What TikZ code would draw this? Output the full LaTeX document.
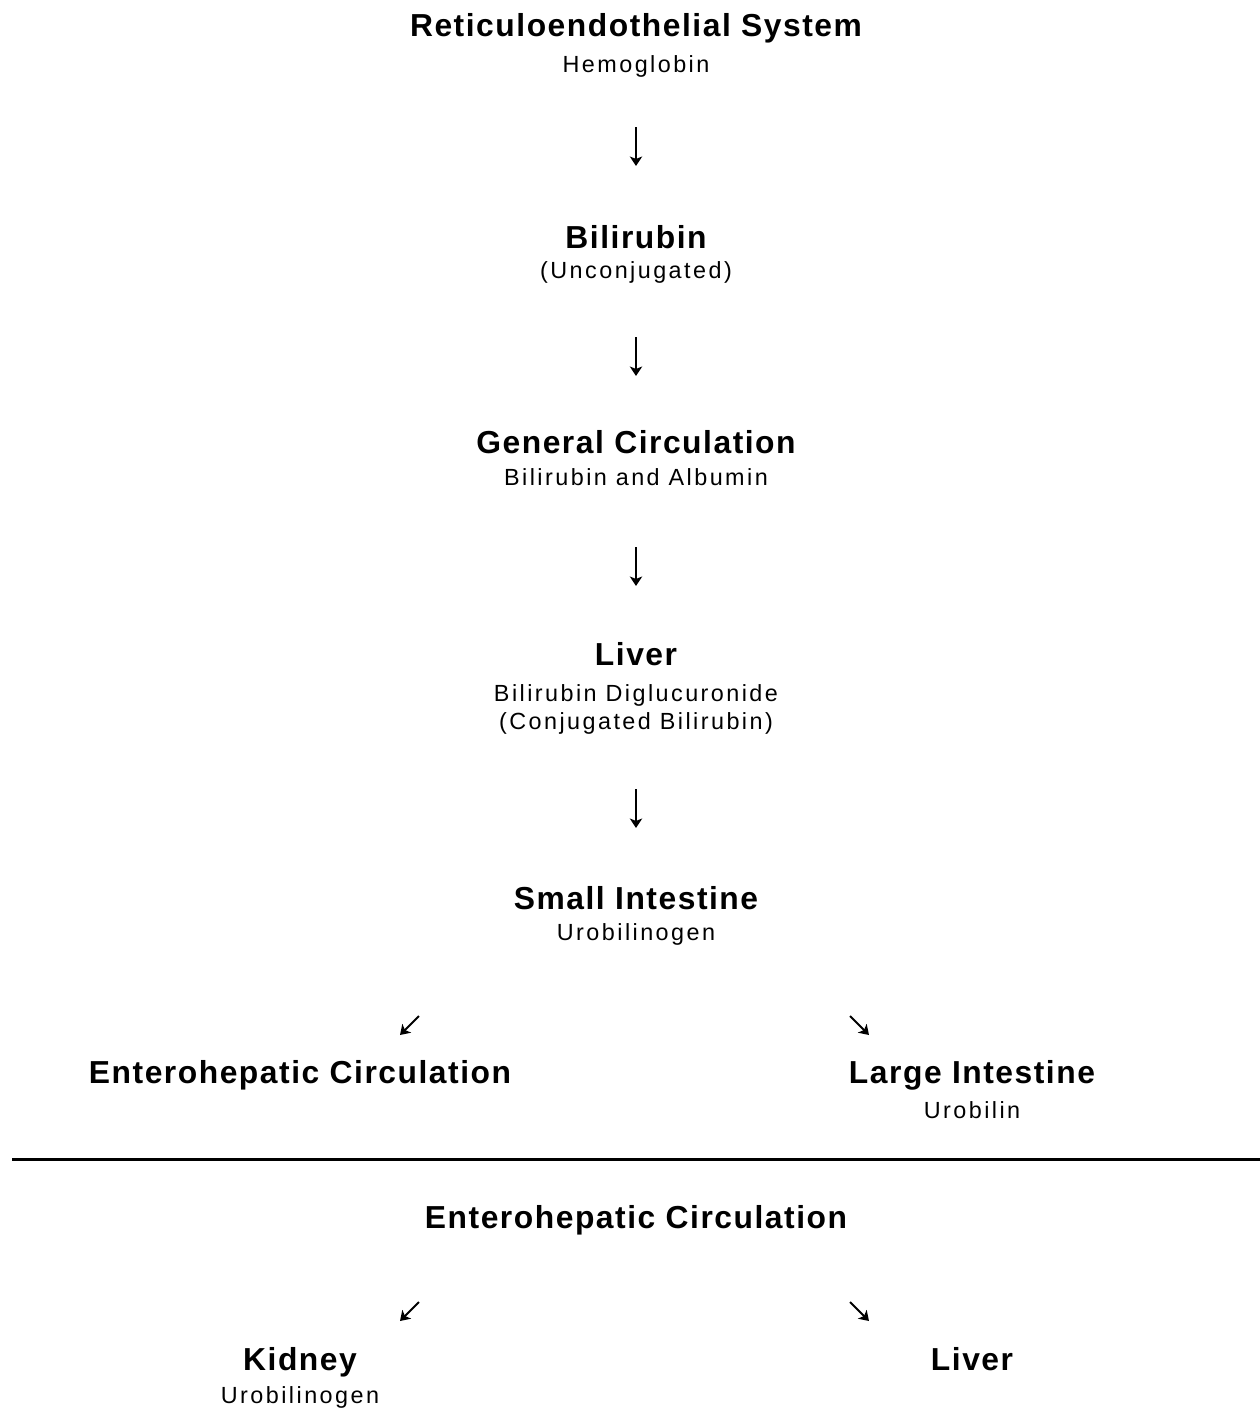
\documentclass[tikz,border=0pt]{standalone}
\usepackage{fontspec}
\setmainfont{Liberation Sans}
\newfontfamily\headfont[LetterSpace=4.8]{Liberation Sans Bold}
\newfontfamily\subfont[LetterSpace=10.5]{Liberation Sans}
\usetikzlibrary{arrows.meta}
\tikzset{
  head/.style={anchor=base, inner sep=0pt, font=\headfont\fontsize{18.1pt}{21pt}\selectfont},
  sub/.style={anchor=base, inner sep=0pt, font=\subfont\fontsize{13.3pt}{16pt}\selectfont},
  flow/.style={line width=1.1pt, -{Stealth[length=5.4pt,width=7pt,inset=1.4pt]}},
  divider/.style={line width=1.7pt}
}
\begin{document}
\begin{tikzpicture}[x=0.02cm,y=-0.02cm]
\useasboundingbox (0,0) rectangle (1260,1410);
% main chain
\node[head] (res) at (636,36) {Reticuloendothelial System};
\node[sub] (hem) at (636,72) {Hemoglobin};
\node[head] (bil) at (636,248) {Bilirubin};
\node[sub] (unc) at (636,278) {(Unconjugated)};
\node[head] (gen) at (636,453) {General Circulation};
\node[sub] (alb) at (636,485) {Bilirubin and Albumin};
\node[head] (liv) at (636,665) {Liver};
\node[sub] (dig) at (636,701) {Bilirubin Diglucuronide};
\node[sub] (con) at (636,729) {(Conjugated Bilirubin)};
\node[head] (si) at (636,909) {Small Intestine};
\node[sub] (uro) at (636,940) {Urobilinogen};
\node[head] (ehc) at (300,1083) {Enterohepatic Circulation};
\node[head] (li) at (972,1083) {Large Intestine};
\node[sub] (urb) at (972,1118) {Urobilin};
% lower part
\node[head] (ehc2) at (636,1228) {Enterohepatic Circulation};
\node[head] (kid) at (300,1370) {Kidney};
\node[sub] (uro2) at (300,1403) {Urobilinogen};
\node[head] (liv2) at (972,1370) {Liver};
% arrow coordinates
\coordinate (a1s) at (636,127); \coordinate (a1e) at (636,166);
\coordinate (a2s) at (636,337); \coordinate (a2e) at (636,376);
\coordinate (a3s) at (636,547); \coordinate (a3e) at (636,586);
\coordinate (a4s) at (636,789); \coordinate (a4e) at (636,828);
\coordinate (l1s) at (419,1016); \coordinate (l1e) at (400,1035);
\coordinate (r1s) at (850,1016); \coordinate (r1e) at (869,1035);
\coordinate (l2s) at (419,1302); \coordinate (l2e) at (400,1321);
\coordinate (r2s) at (850,1302); \coordinate (r2e) at (869,1321);
\coordinate (divL) at (12,1159.5); \coordinate (divR) at (1260,1159.5);
\draw[flow] (a1s) -- (a1e);
\draw[flow] (a2s) -- (a2e);
\draw[flow] (a3s) -- (a3e);
\draw[flow] (a4s) -- (a4e);
\draw[flow] (l1s) -- (l1e);
\draw[flow] (r1s) -- (r1e);
\draw[flow] (l2s) -- (l2e);
\draw[flow] (r2s) -- (r2e);
\draw[divider] (divL) -- (divR);
\end{tikzpicture}
\end{document}
